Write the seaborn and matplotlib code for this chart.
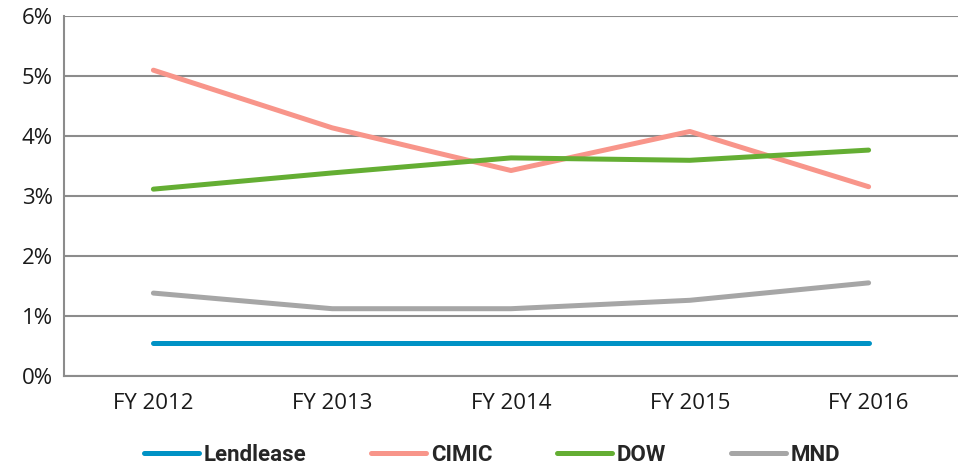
import seaborn as sns
import matplotlib.pyplot as plt
from matplotlib.ticker import FuncFormatter, FixedLocator
import pandas as pd

years = ['FY 2012', 'FY 2013', 'FY 2014', 'FY 2015', 'FY 2016']
lendlease = [0.55, 0.55, 0.55, 0.55, 0.55]
cimic = [5.09, 4.13, 3.42, 4.07, 3.15]
dow = [3.11, 3.38, 3.63, 3.59, 3.76]
mnd = [1.38, 1.12, 1.12, 1.26, 1.55]

series = {'Lendlease': lendlease, 'CIMIC': cimic, 'DOW': dow, 'MND': mnd}
colors = {'Lendlease': '#0092C5', 'CIMIC': '#F8958A', 'DOW': '#64AE33', 'MND': '#A6A6A6'}

rows = []
for name, vals in series.items():
    for y, v in zip(years, vals):
        rows.append({'year': y, 'value': v, 'company': name})
df = pd.DataFrame(rows)

sns.set_style('white')
plt.rcParams['font.family'] = ['Open Sans', 'DejaVu Sans']

fig = plt.figure(figsize=(9.58, 4.68), dpi=100)
ax = fig.add_axes([64 / 958, 1 - 376 / 468, 1 - 64 / 958, (376 - 15.5) / 468])

sns.lineplot(data=df, x='year', y='value', hue='company', palette=colors,
             linewidth=3.6, ax=ax, legend=False, sort=False,
             solid_capstyle='round')

ax.set_xlim(-0.5, 4.5)
ax.set_ylim(0, 6)
ax.set_yticks(range(0, 7))
ax.yaxis.set_major_formatter(FuncFormatter(lambda v, p: f'{int(v)}%'))
ax.yaxis.grid(True, color='#8C8C8C', linewidth=1.5)
ax.set_axisbelow(True)

# ticks between categories on x axis
ax.xaxis.set_minor_locator(FixedLocator([-0.5, 0.5, 1.5, 2.5, 3.5]))
ax.tick_params(axis='x', which='major', length=0, labelsize=16, pad=12, colors='#1a1a1a')
ax.tick_params(axis='x', which='minor', length=5, width=1.5, color='#8C8C8C')
ax.tick_params(axis='y', length=5, width=1.5, color='#8C8C8C', labelsize=16, pad=3,
               labelcolor='#1a1a1a')

for s in ['top', 'right']:
    ax.spines[s].set_visible(False)
for s in ['left', 'bottom']:
    ax.spines[s].set_color('#8C8C8C')
    ax.spines[s].set_linewidth(1.5)

ax.set_xlabel('')
ax.set_ylabel('')

handles = [plt.Line2D([], [], color=colors[n], linewidth=3.6, solid_capstyle='round')
           for n in series]
leg = fig.legend(handles, list(series), loc='center', ncol=4, frameon=False,
                 bbox_to_anchor=(492 / 958, 1 - 455 / 468),
                 handlelength=2.5, handletextpad=0.2, columnspacing=2.9,
                 prop={'family': 'Roboto', 'weight': 'bold', 'size': 16})

plt.savefig('out.png', dpi=100)
